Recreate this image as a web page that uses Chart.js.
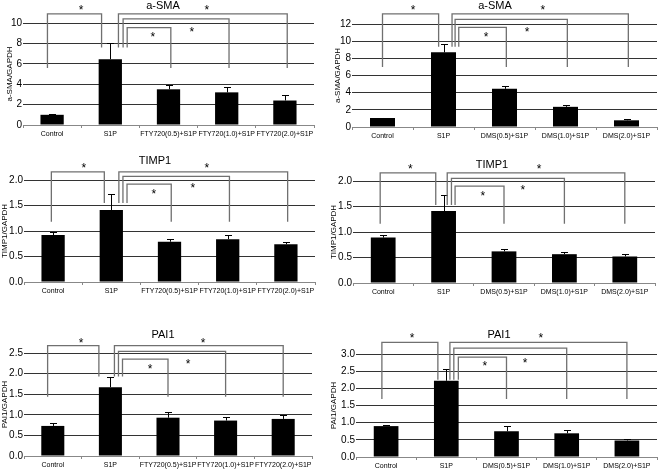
<!DOCTYPE html>
<html>
<head>
<meta charset="utf-8">
<script src="https://cdn.jsdelivr.net/npm/chart.js@4.4.1/dist/chart.umd.min.js"></script>
<style>
html, body { margin: 0; padding: 0; background: #fff; overflow: hidden; }
#page { position: relative; width: 658px; height: 469px; overflow: hidden; }
canvas { position: absolute; }
</style>
</head>
<body>
<div id="page">
  <canvas id="c1" width="329" height="150" style="left:0;top:0"></canvas>
  <canvas id="c2" width="329" height="150" style="left:329px;top:0"></canvas>
  <canvas id="c3" width="329" height="160" style="left:0;top:150px"></canvas>
  <canvas id="c4" width="329" height="160" style="left:329px;top:150px"></canvas>
  <canvas id="c5" width="329" height="159" style="left:0;top:310px"></canvas>
  <canvas id="c6" width="329" height="159" style="left:329px;top:310px"></canvas>
</div>
<script>
// categorias
const ftyLabels = ['Control', 'S1P', 'FTY720(0.5)+S1P', 'FTY720(1.0)+S1P', 'FTY720(2.0)+S1P'];
const dmsLabels = ['Control', 'S1P', 'DMS(0.5)+S1P', 'DMS(1.0)+S1P', 'DMS(2.0)+S1P'];

// medias y errores (SEM)
const smaFty = [1.0, 6.45, 3.5, 3.2, 2.4];
const smaFtyErr = [0.07, 1.6, 0.45, 0.48, 0.52];
const smaDms = [1.05, 8.7, 4.45, 2.35, 0.78];
const smaDmsErr = [0.03, 0.95, 0.38, 0.26, 0.1];
const timpFty = [0.92, 1.41, 0.79, 0.84, 0.74];
const timpFtyErr = [0.06, 0.32, 0.05, 0.08, 0.04];
const timpDms = [0.89, 1.41, 0.62, 0.565, 0.52];
const timpDmsErr = [0.06, 0.32, 0.04, 0.045, 0.05];
const paiFty = [0.73, 1.67, 0.93, 0.86, 0.9];
const paiFtyErr = [0.07, 0.24, 0.13, 0.08, 0.09];
const paiDms = [0.9, 2.22, 0.75, 0.69, 0.48];
const paiDmsErr = [0.03, 0.34, 0.14, 0.09, 0.03];

// ejes y: [max, paso]
const smaFtyAxis = [10, 2];
const smaDmsAxis = [12, 2];
const timpAxis = [2.0, 0.5];
const paiFtyAxis = [2.5, 0.5];
const paiDmsAxis = [3.0, 0.5];

Chart.defaults.font.family = '"Liberation Sans", Arial, sans-serif';

// barras de error, corchetes de significancia, asteriscos y titulo
const marksPlugin = {
    id: 'marks',
    afterDatasetsDraw(chart) {
        const cfg = chart.options.plugins.marks;
        const x = chart.scales.x, y = chart.scales.y, ctx = chart.ctx;
        const values = chart.data.datasets[0].data;
        ctx.save();

        ctx.strokeStyle = '#000';
        ctx.lineWidth = 1;
        values.forEach((v, i) => {
            const px = Math.round(x.getPixelForValue(i)) + 0.5;
            const top = Math.round(y.getPixelForValue(v + cfg.errors[i])) + 0.5;
            ctx.beginPath();
            ctx.moveTo(px, y.getPixelForValue(v));
            ctx.lineTo(px, top);
            ctx.moveTo(px - 3.5, top);
            ctx.lineTo(px + 3.5, top);
            ctx.stroke();
        });

        const s = cfg.sig;
        ctx.strokeStyle = '#707070';
        ctx.lineWidth = 1.3;
        const bracket = (xa, xb, top, ya, yb) => {
            const ta = y.getPixelForValue(top);
            ctx.beginPath();
            ctx.moveTo(x.getPixelForValue(xa), y.getPixelForValue(ya));
            ctx.lineTo(x.getPixelForValue(xa), ta);
            ctx.lineTo(x.getPixelForValue(xb), ta);
            ctx.lineTo(x.getPixelForValue(xb), y.getPixelForValue(yb));
            ctx.stroke();
        };
        bracket(0 + s.legs[0], 1 + s.legs[1], s.tops[0], s.lo, s.hi);
        for (let k = 0; k < 3; k++) {
            bracket(1 + s.legs[2 + k], 2 + k + s.legs[5], s.tops[1 + k], s.hi, s.lo);
        }

        ctx.fillStyle = '#000';
        ctx.textAlign = 'center';
        ctx.font = '12px "Liberation Sans", Arial, sans-serif';
        ctx.textBaseline = 'alphabetic';
        s.stars.forEach(p => ctx.fillText('*', x.getPixelForValue(p[0]), y.getPixelForValue(p[1]) + 7));

        ctx.font = '11px "Liberation Sans", Arial, sans-serif';
        ctx.textBaseline = 'middle';
        ctx.fillText(cfg.title, cfg.titleX, cfg.titleY);
        ctx.restore();
    }
};

function makeChart(id, labels, values, errors, axis, decimals, yTitle, title, sig, box) {
    const canvas = document.getElementById(id);
    return new Chart(canvas, {
        type: 'bar',
        data: {
            labels: labels,
            datasets: [{
                data: values,
                backgroundColor: '#000',
                borderWidth: 0,
                barPercentage: box.bar,
                categoryPercentage: 1
            }]
        },
        options: {
            responsive: false,
            animation: false,
            layout: { padding: { left: 0, top: box.top, right: canvas.width - box.right, bottom: 0 } },
            plugins: {
                legend: { display: false },
                tooltip: { enabled: false },
                marks: { errors: errors, sig: sig, title: title, titleX: box.tx, titleY: box.ty }
            },
            scales: {
                x: {
                    grid: { offset: true, drawOnChartArea: false, tickLength: 3, color: '#888' },
                    border: { color: '#888' },
                    ticks: { color: '#000', font: { size: 7 }, padding: 2, maxRotation: 0, autoSkip: false },
                    afterFit: s => { s.height = canvas.height - box.bottom; }
                },
                y: {
                    min: 0,
                    max: axis[0],
                    ticks: {
                        stepSize: axis[1],
                        color: '#000',
                        font: { size: 10 },
                        padding: 1,
                        callback: v => v.toFixed(decimals)
                    },
                    grid: {
                        drawTicks: false,
                        color: c => (c.tick && c.tick.value === 0 ? '#888' : '#333')
                    },
                    border: { display: false },
                    title: { display: true, text: yTitle, color: '#000', font: { size: 8 }, padding: { top: box.tp, bottom: 0 } },
                    afterFit: s => { s.width = box.left; }
                }
            }
        },
        plugins: [marksPlugin]
    });
}

// a-SMA
makeChart('c1', ftyLabels, smaFty, smaFtyErr, smaFtyAxis, 0, 'a-SMA/GAPDH', 'a-SMA', {
    tops: [10.9, 9.54, 10.4, 10.9], hi: 7.6, lo: 5.6,
    legs: [-0.08, -0.15, 0.29, 0.22, 0.14, 0.04],
    stars: [[0.5, 11.6], [1.73, 8.95], [2.4, 9.44], [2.66, 11.6]]
}, { left: 23, right: 314, top: 23, bottom: 125, bar: 0.4, tp: 5, tx: 163, ty: 6 });

makeChart('c2', dmsLabels, smaDms, smaDmsErr, smaDmsAxis, 0, 'a-SMA/GAPDH', 'a-SMA', {
    tops: [13.17, 11.6, 12.55, 13.17], hi: 9.35, lo: 7.0,
    legs: [0, -0.08, 0.25, 0.19, 0.14, 0.03],
    stars: [[0.5, 14.0], [1.7, 10.8], [2.37, 11.4], [2.63, 14.0]]
}, { left: 23, right: 328, top: 24, bottom: 127, bar: 0.41, tp: 4, tx: 166, ty: 6 });

// TIMP1
makeChart('c3', ftyLabels, timpFty, timpFtyErr, timpAxis, 1, 'TIMP1/GAPDH', 'TIMP1', {
    tops: [2.16, 1.92, 2.07, 2.16], hi: 1.55, lo: 1.18,
    legs: [-0.03, -0.12, 0.27, 0.2, 0.13, 0.03],
    stars: [[0.53, 2.29], [1.73, 1.79], [2.4, 1.9], [2.64, 2.29]]
}, { left: 24, right: 315, top: 30, bottom: 132, bar: 0.4, tp: 0, tx: 155, ty: 11 });

makeChart('c4', dmsLabels, timpDms, timpDmsErr, timpAxis, 1, 'TIMP1/GAPDH', 'TIMP1', {
    tops: [2.16, 1.9, 2.05, 2.16], hi: 1.53, lo: 1.16,
    legs: [-0.05, -0.13, 0.19, 0.13, 0.06, 0],
    stars: [[0.45, 2.3], [1.65, 1.77], [2.31, 1.88], [2.58, 2.3]]
}, { left: 24, right: 326, top: 31, bottom: 133, bar: 0.41, tp: 0, tx: 163, ty: 15 });

// PAI1
makeChart('c5', ftyLabels, paiFty, paiFtyErr, paiFtyAxis, 1, 'PAI1/GAPDH', 'PAI1', {
    tops: [2.68, 2.35, 2.54, 2.68], hi: 1.93, lo: 1.44,
    legs: [-0.09, -0.2, 0.21, 0.14, 0.07, 0],
    stars: [[0.49, 2.81], [1.69, 2.19], [2.35, 2.31], [2.61, 2.81]]
}, { left: 24, right: 312, top: 43, bottom: 146, bar: 0.4, tp: 0, tx: 163, ty: 25 });

makeChart('c6', dmsLabels, paiDms, paiDmsErr, paiDmsAxis, 1, 'PAI1/GAPDH', 'PAI1', {
    tops: [3.34, 2.91, 3.17, 3.34], hi: 2.25, lo: 1.69,
    legs: [-0.07, -0.14, 0.2, 0.125, 0.06, 0],
    stars: [[0.43, 3.56], [1.64, 2.73], [2.31, 2.83], [2.57, 3.56]]
}, { left: 27, right: 328, top: 44, bottom: 147, bar: 0.41, tp: 0, tx: 170, ty: 25 });
</script>
</body>
</html>
